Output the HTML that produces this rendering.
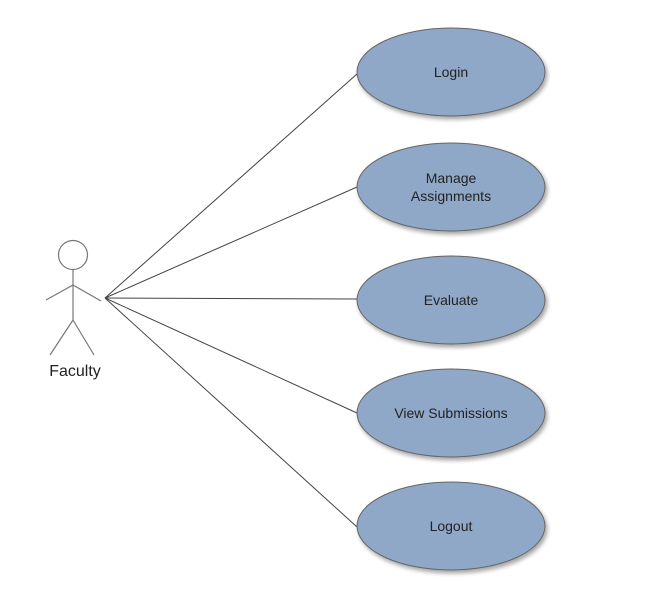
<!DOCTYPE html>
<html><head><meta charset="utf-8"><style>
html,body{margin:0;padding:0;background:#fff;}
svg{display:block;}
text{font-family:"Liberation Sans",Arial,sans-serif;font-size:14px;fill:#222;}
</style></head><body>
<svg width="666" height="608" viewBox="0 0 666 608">
<defs>
<filter id="sh" x="-10%" y="-10%" width="130%" height="130%">
<feGaussianBlur in="SourceAlpha" stdDeviation="2"/>
<feOffset dx="2" dy="3"/>
<feComponentTransfer><feFuncA type="linear" slope="0.35"/></feComponentTransfer>
<feMerge><feMergeNode/><feMergeNode in="SourceGraphic"/></feMerge>
</filter>
</defs>
<g stroke="#444" stroke-width="1" fill="none">
<line x1="105" y1="298" x2="357" y2="74"/>
<line x1="105" y1="298" x2="357" y2="187"/>
<line x1="105" y1="298" x2="357" y2="299"/>
<line x1="105" y1="298" x2="357" y2="413"/>
<line x1="105" y1="298" x2="357" y2="527"/>
</g>
<g fill="#8fa8c8" stroke="#666" stroke-width="1" filter="url(#sh)">
<ellipse cx="451" cy="72" rx="94" ry="44"/>
<ellipse cx="451" cy="187" rx="94" ry="44"/>
<ellipse cx="451" cy="300" rx="94" ry="44"/>
<ellipse cx="451" cy="413" rx="94" ry="44"/>
<ellipse cx="451" cy="526" rx="94" ry="44"/>
</g>
<g text-anchor="middle">
<text x="451" y="77">Login</text>
<text x="451" y="183">Manage</text>
<text x="451" y="201">Assignments</text>
<text x="451" y="305">Evaluate</text>
<text x="451" y="418">View Submissions</text>
<text x="451" y="531">Logout</text>
</g>
<g stroke="#777" stroke-width="1.2" fill="#fff">
<circle cx="73" cy="255" r="14.5"/>
<line x1="73" y1="270" x2="73" y2="320"/>
<line x1="73" y1="285" x2="46" y2="300"/>
<line x1="73" y1="285" x2="101" y2="301"/>
<line x1="73" y1="320" x2="50" y2="355"/>
<line x1="73" y1="320" x2="94" y2="355"/>
</g>
<text x="75" y="376" text-anchor="middle" style="font-size:16px">Faculty</text>
</svg>
</body></html>
